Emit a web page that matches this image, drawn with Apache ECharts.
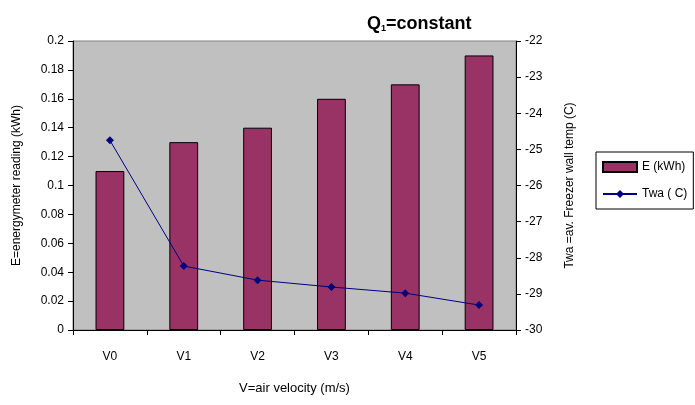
<!DOCTYPE html>
<html><head><meta charset="utf-8">
<script src="https://cdn.jsdelivr.net/npm/echarts@6/dist/echarts.min.js"></script>
<style>html,body{margin:0;padding:0;background:#fff}#c{width:695px;height:405px}</style>
</head><body><div id="c"></div>
<script>
const categories = ['V0','V1','V2','V3','V4','V5'];
const energy = [0.11, 0.13, 0.14, 0.16, 0.17, 0.19];
const wallTemp = [-24.75, -28.23, -28.62, -28.81, -28.98, -29.31];
const leftTicks = {min: 0, max: 0.2, interval: 0.02};
const rightTicks = {min: -30, max: -22, interval: 1};

const font = 'Liberation Sans, Arial, sans-serif';
const chart = echarts.init(document.getElementById('c'));
chart.setOption({
  animation: false,
  textStyle: {fontFamily: font, color: '#000'},
  title: {
    text: '{a|Q}{s|1}{a|=constant}',
    left: 362, top: 10,
    textStyle: {rich: {
      a: {fontFamily: font, fontSize: 18, fontWeight: 'bold', color: '#000'},
      s: {fontFamily: font, fontSize: 9, fontWeight: 'bold', color: '#000', verticalAlign: 'bottom', padding: [6,0,0,0]}
    }}
  },
  legend: {
    orient: 'vertical', left: 596, top: 152,
    width: 97, height: 63,
    padding: [9, 6, 9, 6], itemGap: 15,
    itemWidth: 34, itemHeight: 10,
    borderColor: '#000', borderWidth: 1,
    textStyle: {fontFamily: font, fontSize: 12, color: '#000'},
    data: [{name: 'E (kWh)', icon: 'rect'}, {name: 'Twa ( C)'}]
  },
  grid: {left: 73, right: 179, top: 41, bottom: 75, show: true, backgroundColor: '#C0C0C0', borderColor: '#808080', borderWidth: 1},
  xAxis: {
    type: 'category', data: categories,
    name: 'V=air velocity (m/s)', nameLocation: 'middle', nameGap: 52,
    nameTextStyle: {fontFamily: font, fontSize: 13, color: '#000'},
    axisLine: {lineStyle: {color: '#000'}},
    axisTick: {show: true, length: 5, lineStyle: {color: '#000'}},
    axisLabel: {fontSize: 12, color: '#000', margin: 21, fontFamily: font}
  },
  yAxis: [{
    type: 'value', min: leftTicks.min, max: leftTicks.max, interval: leftTicks.interval,
    name: 'E=energymeter reading (kWh)', nameLocation: 'middle', nameGap: 50,
    nameTextStyle: {fontFamily: font, fontSize: 12, color: '#000'},
    axisLine: {show: true, lineStyle: {color: '#000'}},
    axisTick: {show: true, length: 5, lineStyle: {color: '#000'}},
    splitLine: {show: false},
    axisLabel: {fontSize: 12, color: '#000', margin: 9, fontFamily: font}
  }, {
    type: 'value', min: rightTicks.min, max: rightTicks.max, interval: rightTicks.interval,
    position: 'right',
    name: 'Twa =av. Freezer wall temp (C)', nameLocation: 'middle', nameGap: 48, nameRotate: 90,
    nameTextStyle: {fontFamily: font, fontSize: 12, color: '#000'},
    axisLine: {show: true, lineStyle: {color: '#000'}},
    axisTick: {show: true, length: 5, lineStyle: {color: '#000'}},
    splitLine: {show: false},
    axisLabel: {fontSize: 12, color: '#000', margin: 9, fontFamily: font}
  }],
  series: [{
    name: 'E (kWh)', type: 'bar', data: energy, barWidth: '39%',
    itemStyle: {color: '#993366', borderColor: '#000', borderWidth: 1}
  }, {
    name: 'Twa ( C)', type: 'line', yAxisIndex: 1, data: wallTemp,
    symbol: 'diamond', symbolSize: 8,
    lineStyle: {color: '#000080', width: 1},
    itemStyle: {color: '#000080'}
  }]
});
</script></body></html>
